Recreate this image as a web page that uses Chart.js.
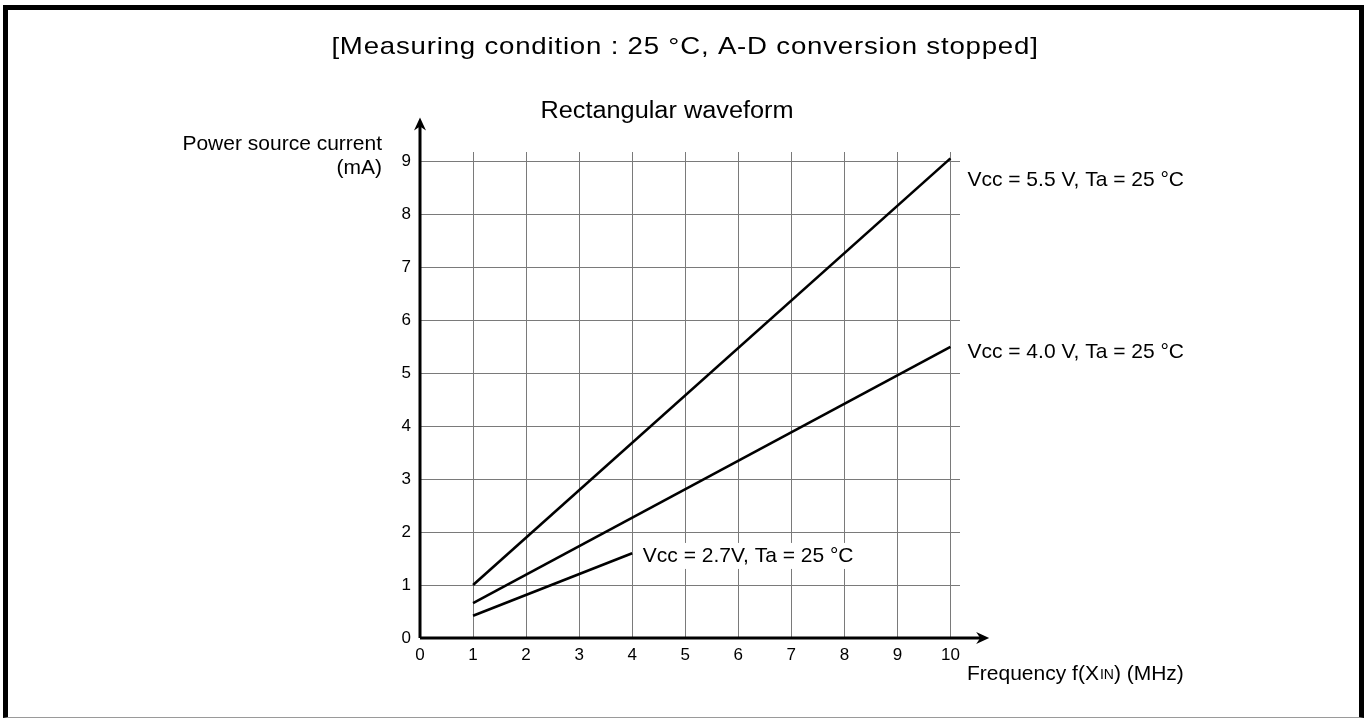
<!DOCTYPE html>
<html>
<head>
<meta charset="utf-8">
<title>Power source current vs frequency</title>
<script src="https://cdn.jsdelivr.net/npm/chart.js@4.4.1/dist/chart.umd.min.js"></script>
<style>
  html, body { margin: 0; padding: 0; background: #fff; }
  #wrap { position: relative; width: 1370px; height: 719px; overflow: hidden; }
  #chart { position: absolute; left: 0; top: 0; }
  #frame {
    position: absolute; left: 3px; top: 5px; width: 1351px; height: 707px;
    border: 5px solid #000; border-bottom: 1px solid #9a9a9a;
    pointer-events: none;
  }
</style>
</head>
<body>
<div id="wrap">
  <canvas id="chart" width="1370" height="719"></canvas>
  <div id="frame"></div>
</div>
<script>
  const FONT = "'Liberation Sans', Arial, Helvetica, sans-serif";

  // Frequency f(XIN) in MHz, current in mA
  const freq55 = [1, 10];
  const current55 = [1.0, 9.06];
  const freq40 = [1, 10];
  const current40 = [0.66, 5.5];
  const freq27 = [1, 4];
  const current27 = [0.42, 1.6];

  const seriesLabels = [
    "Vcc = 5.5 V, Ta = 25 \u00B0C",
    "Vcc = 4.0 V, Ta = 25 \u00B0C",
    "Vcc = 2.7V, Ta = 25 \u00B0C",
  ];
  // where each series label sits, in axis units
  const labelAnchors = [
    { x: 10.32, y: 8.64, boxed: false },
    { x: 10.32, y: 5.4, boxed: false },
    { x: 4.2, y: 1.55, boxed: true },
  ];

  const xTickValues = [0, 1, 2, 3, 4, 5, 6, 7, 8, 9, 10];
  const xTickLabels = ["0", "1", "2", "3", "4", "5", "6", "7", "8", "9", "10"];
  const yTickValues = [0, 1, 2, 3, 4, 5, 6, 7, 8, 9];
  const yTickLabels = ["0", "1", "2", "3", "4", "5", "6", "7", "8", "9"];

  const X_MAX = 10.18;
  const Y_MAX = 9.18;
  const X_ARROW = 10.73;
  const Y_ARROW = 9.83;

  function toPoints(xs, ys) {
    return xs.map((x, i) => ({ x, y: ys[i] }));
  }

  function lineDataset(label, xs, ys) {
    return {
      label,
      data: toPoints(xs, ys),
      borderColor: "#000",
      borderWidth: 2.6,
      pointRadius: 0,
      tension: 0,
      fill: false,
    };
  }

  function gridColor(ctx) {
    return ctx.tick && ctx.tick.value === 0 ? "rgba(0,0,0,0)" : "#7a7a7a";
  }

  // text drawn a little wider than the font's natural width
  function wideText(ctx, text, x, y, sx) {
    ctx.save();
    ctx.translate(x, y);
    ctx.scale(sx, 1);
    ctx.fillText(text, 0, 0);
    ctx.restore();
  }

  // axes drawn as arrows past the grid
  const axisArrows = {
    id: "axisArrows",
    afterDraw(chart) {
      const { ctx, scales: { x, y } } = chart;
      const x0 = x.getPixelForValue(0);
      const y0 = y.getPixelForValue(0);
      const xEnd = x.getPixelForValue(X_ARROW);
      const yEnd = y.getPixelForValue(Y_ARROW);
      ctx.save();
      ctx.strokeStyle = "#000";
      ctx.fillStyle = "#000";
      ctx.lineWidth = 3;
      ctx.beginPath();
      ctx.moveTo(x0, y0);
      ctx.lineTo(xEnd - 6, y0);
      ctx.moveTo(x0, y0);
      ctx.lineTo(x0, yEnd + 6);
      ctx.stroke();

      ctx.beginPath();
      ctx.moveTo(xEnd, y0);
      ctx.lineTo(xEnd - 13, y0 - 6);
      ctx.lineTo(xEnd - 9, y0);
      ctx.lineTo(xEnd - 13, y0 + 6);
      ctx.closePath();
      ctx.fill();

      ctx.beginPath();
      ctx.moveTo(x0, yEnd);
      ctx.lineTo(x0 - 6, yEnd + 13);
      ctx.lineTo(x0, yEnd + 9);
      ctx.lineTo(x0 + 6, yEnd + 13);
      ctx.closePath();
      ctx.fill();
      ctx.restore();
    },
  };

  // titles, axis names and series labels
  const chartText = {
    id: "chartText",
    afterDraw(chart) {
      const { ctx, scales: { x, y } } = chart;
      ctx.save();
      ctx.fillStyle = "#000";
      ctx.textBaseline = "middle";

      ctx.textAlign = "center";
      ctx.font = `24px ${FONT}`;
      ctx.letterSpacing = "0.7px";
      wideText(ctx, "[Measuring condition : 25 \u00B0C, A-D conversion stopped]", 685, 47, 1.15);

      ctx.font = `23px ${FONT}`;
      ctx.letterSpacing = "0px";
      wideText(ctx, "Rectangular waveform", 667, 112, 1.1);

      ctx.font = `21px ${FONT}`;
      ctx.textAlign = "right";
      ctx.fillText("Power source current", 382, 144);
      ctx.fillText("(mA)", 382, 168);

      // x axis name with small-caps "IN"
      ctx.textAlign = "left";
      let tx = 967;
      const ty = 674;
      ctx.font = `21px ${FONT}`;
      ctx.fillText("Frequency f(X", tx, ty);
      tx += ctx.measureText("Frequency f(X").width;
      ctx.font = `14px ${FONT}`;
      ctx.fillText("IN", tx + 1, ty + 1);
      tx += ctx.measureText("IN").width + 1;
      ctx.font = `21px ${FONT}`;
      ctx.fillText(") (MHz)", tx, ty);

      ctx.font = `21px ${FONT}`;
      seriesLabels.forEach((text, i) => {
        const a = labelAnchors[i];
        const px = x.getPixelForValue(a.x);
        const py = y.getPixelForValue(a.y);
        if (a.boxed) {
          const w = ctx.measureText(text).width;
          ctx.fillStyle = "#fff";
          ctx.fillRect(px - 6, py - 13, w + 12, 26);
          ctx.fillStyle = "#000";
        }
        ctx.fillText(text, px, py);
      });
      ctx.restore();
    },
  };

  new Chart(document.getElementById("chart"), {
    type: "line",
    data: {
      datasets: [
        lineDataset(seriesLabels[0], freq55, current55),
        lineDataset(seriesLabels[1], freq40, current40),
        lineDataset(seriesLabels[2], freq27, current27),
      ],
    },
    options: {
      responsive: false,
      animation: false,
      devicePixelRatio: 1,
      layout: { padding: { left: 0, top: 152, right: 410, bottom: 0 } },
      plugins: {
        legend: { display: false },
        tooltip: { enabled: false },
        title: { display: false },
      },
      scales: {
        x: {
          type: "linear",
          min: 0,
          max: X_MAX,
          afterBuildTicks: (scale) => {
            scale.ticks = xTickValues.map((v) => ({ value: v }));
          },
          afterFit: (scale) => { scale.height = 81; },
          ticks: {
            color: "#000",
            font: { family: FONT, size: 17 },
            padding: 7,
            maxRotation: 0,
            autoSkip: false,
            callback: (v) => xTickLabels[xTickValues.indexOf(v)],
          },
          grid: { color: gridColor, lineWidth: 1, drawTicks: false },
          border: { display: false },
        },
        y: {
          type: "linear",
          min: 0,
          max: Y_MAX,
          afterBuildTicks: (scale) => {
            scale.ticks = yTickValues.map((v) => ({ value: v }));
          },
          afterFit: (scale) => { scale.width = 420; },
          ticks: {
            color: "#000",
            font: { family: FONT, size: 17 },
            padding: 9,
            autoSkip: false,
            callback: (v) => yTickLabels[yTickValues.indexOf(v)],
          },
          grid: { color: gridColor, lineWidth: 1, drawTicks: false },
          border: { display: false },
        },
      },
    },
    plugins: [axisArrows, chartText],
  });
</script>
</body>
</html>
